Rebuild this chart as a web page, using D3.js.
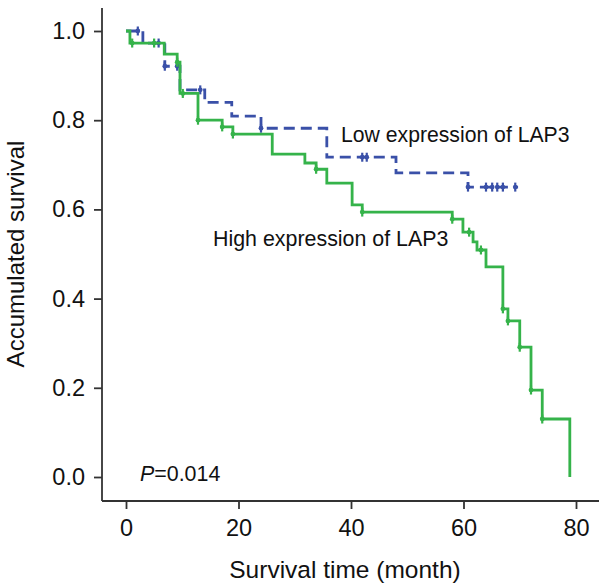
<!DOCTYPE html>
<html>
<head>
<meta charset="utf-8">
<script src="https://cdn.jsdelivr.net/npm/d3@7"></script>
<style>
  body { margin: 0; background: #fff; }
  text { font-family: "Liberation Sans", Arial, sans-serif; fill: #111; }
</style>
</head>
<body>
<script>
const width = 600;
const height = 587;

// high expression of LAP3 (green, solid)
const highTimes = [0, 0.7, 6.8, 9.1, 9.6, 12.8, 17.1, 19.0, 26.0, 31.8, 33.8, 35.7, 40.2, 42.0, 58.0, 59.9, 61.7, 62.4, 64.0, 67.0, 67.9, 70.0, 72.0, 74.0, 78.9];
const highSurv = [1.0, 0.973, 0.948, 0.93, 0.86, 0.8, 0.785, 0.769, 0.724, 0.704, 0.69, 0.659, 0.61, 0.594, 0.578, 0.549, 0.527, 0.509, 0.471, 0.377, 0.35, 0.291, 0.195, 0.13, 0.0];
const highCensored = [1.1, 5.0, 9.1, 10.1, 12.8, 17.1, 19.0, 33.8, 42.0, 58.0, 61.0, 63.1, 67.0, 67.9, 70.0, 72.0, 74.0];

// low expression of LAP3 (blue, dashed)
const lowTimes = [0, 3.0, 6.9, 9.6, 14.0, 18.8, 24.0, 35.7, 48.0, 60.8, 69.7];
const lowSurv = [1.0, 0.973, 0.921, 0.868, 0.84, 0.809, 0.782, 0.717, 0.682, 0.65, 0.65];
const lowCensored = [2.1, 5.8, 6.9, 9.1, 13.2, 24.0, 42.0, 42.8, 60.8, 64.0, 65.1, 66.0, 67.0, 69.2];

const xTicks = [0, 20, 40, 60, 80];
const yTicks = [0, 0.2, 0.4, 0.6, 0.8, 1.0];

const axisColor = "#333";
const greenColor = "#35b34a";
const blueColor = "#3a50a8";

// SCALES
const xScale = d3.scaleLinear().domain([0, 80]).range([126, 576]);
const yScale = d3.scaleLinear().domain([0, 1]).range([477, 31]);

const svg = d3
  .select("body")
  .append("svg")
  .attr("width", width)
  .attr("height", height);

// AXES
const axisX = 102;
const axisY = 501;

const yAxis = svg
  .append("g")
  .attr("transform", `translate(${axisX},0)`)
  .call(d3.axisLeft(yScale).tickValues(yTicks).tickFormat(d3.format(".1f")).tickSize(8).tickPadding(9));

const xAxis = svg
  .append("g")
  .attr("transform", `translate(0,${axisY})`)
  .call(d3.axisBottom(xScale).tickValues(xTicks).tickSize(8).tickPadding(10));

[yAxis, xAxis].forEach((g) => {
  g.select(".domain").remove();
  g.selectAll("line").attr("stroke", axisColor).attr("stroke-width", 1.8);
  g.selectAll("text").style("font-size", "23.5px").attr("fill", "#111");
});

svg
  .append("line")
  .attr("x1", axisX)
  .attr("x2", axisX)
  .attr("y1", 8)
  .attr("y2", axisY)
  .attr("stroke", axisColor)
  .attr("stroke-width", 1.8);

svg
  .append("line")
  .attr("x1", axisX)
  .attr("x2", 599)
  .attr("y1", axisY)
  .attr("y2", axisY)
  .attr("stroke", axisColor)
  .attr("stroke-width", 1.8);

// CURVES
const stepLine = d3
  .line()
  .x((d) => xScale(d[0]))
  .y((d) => yScale(d[1]))
  .curve(d3.curveStepAfter);

function survivalAt(times, surv, t) {
  let value = surv[0];
  times.forEach((time, i) => {
    if (time <= t) value = surv[i];
  });
  return value;
}

function drawCurve(times, surv, censored, color, dash) {
  const points = times.map((t, i) => [t, surv[i]]);
  svg
    .append("path")
    .attr("d", stepLine(points))
    .attr("fill", "none")
    .attr("stroke", color)
    .attr("stroke-width", 2.8)
    .attr("stroke-dasharray", dash);

  const marks = svg
    .append("g")
    .selectAll("g")
    .data(censored)
    .enter()
    .append("g")
    .attr(
      "transform",
      (d) => `translate(${xScale(d)},${yScale(survivalAt(times, surv, d))})`
    );
  marks
    .append("line")
    .attr("y1", -4.5)
    .attr("y2", 4.5)
    .attr("stroke", color)
    .attr("stroke-width", 2.2);
  marks.append("circle").attr("r", 2.4).attr("fill", color);
}

drawCurve(lowTimes, lowSurv, lowCensored, blueColor, "11,6");
drawCurve(highTimes, highSurv, highCensored, greenColor, null);

// LABELS
svg
  .append("text")
  .text("Low expression of LAP3")
  .attr("x", 341)
  .attr("y", 142)
  .style("font-size", "21.2px");

svg
  .append("text")
  .text("High expression of LAP3")
  .attr("x", 213)
  .attr("y", 246)
  .style("font-size", "21.4px");

const pLabel = svg
  .append("text")
  .attr("x", 140)
  .attr("y", 481)
  .style("font-size", "21.4px");
pLabel.append("tspan").text("P").style("font-style", "italic");
pLabel.append("tspan").text("=0.014");

svg
  .append("text")
  .text("Survival time (month)")
  .attr("x", 345)
  .attr("y", 578)
  .attr("text-anchor", "middle")
  .style("font-size", "24.5px");

svg
  .append("text")
  .text("Accumulated survival")
  .attr("transform", `translate(24,${yScale(0.5)}) rotate(-90)`)
  .attr("text-anchor", "middle")
  .style("font-size", "24px");
</script>
</body>
</html>
